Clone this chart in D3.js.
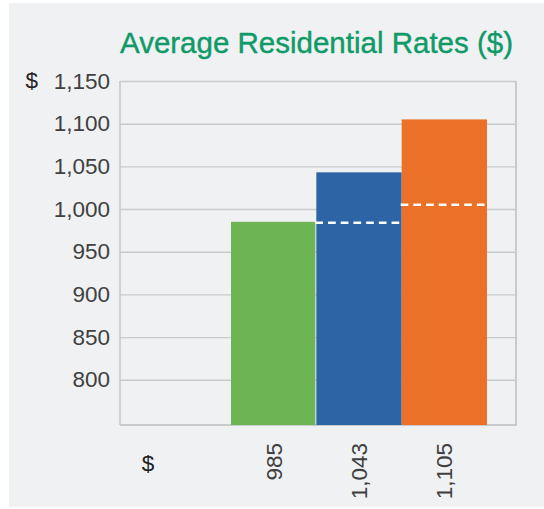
<!DOCTYPE html>
<html>
<head>
<meta charset="utf-8">
<script src="https://cdn.jsdelivr.net/npm/d3@7"></script>
<style>
  html, body { margin: 0; padding: 0; background: #ffffff; }
  svg { display: block; }
  text { font-family: "Liberation Sans", Arial, Helvetica, sans-serif; }
</style>
</head>
<body>
<div id="chart"></div>
<script>
// ---- data ----
const title = "Average Residential Rates ($)";
const categories = ["985", "1,043", "1,105"];
const values = [985, 1043, 1105];
const priorValues = [null, 984, 1005];   // white dashed reference lines
const barColors = ["#6db454", "#2c64a6", "#ec7128"];
const yTicks = [800, 850, 900, 950, 1000, 1050, 1100, 1150];
const yDomain = [747, 1150];
const unitLabel = "$";

// ---- layout ----
const W = 544, H = 509;
const plot = { left: 120, right: 516, top: 81, bottom: 425 };

const svg = d3.select("#chart").append("svg")
  .attr("width", W).attr("height", H);

svg.append("rect").attr("x", 0).attr("y", 0).attr("width", W).attr("height", H).attr("fill", "#ffffff");
svg.append("rect").attr("x", 9).attr("y", 3).attr("width", W - 9).attr("height", H - 5).attr("fill", "#f0f1f3");

const y = d3.scaleLinear().domain(yDomain).range([plot.bottom, plot.top]);
const x = d3.scaleBand().domain(categories)
  .range([plot.left + 111, plot.left + 367]).paddingInner(0).paddingOuter(0);

const gridColor = "#c9cacc";

// gridlines + y labels via axis
const yAxis = d3.axisLeft(y).tickValues(yTicks)
  .tickSize(-(plot.right - plot.left)).tickPadding(10)
  .tickFormat(d3.format(","));
const gy = svg.append("g").attr("transform", `translate(${plot.left},0)`).call(yAxis);
gy.select(".domain").remove();
gy.selectAll(".tick line").attr("stroke", gridColor).attr("stroke-width", 1.4);
gy.selectAll(".tick text")
  .attr("fill", "#404040").attr("font-size", 22.5).attr("font-family", "'Liberation Sans', Arial, sans-serif");

// "$" before top label
svg.append("text")
  .attr("x", 38).attr("y", y(1150)).attr("dy", "0.32em")
  .attr("text-anchor", "end").attr("font-size", 22.5).attr("fill", "#222")
  .text(unitLabel);

// frame
svg.append("line").attr("x1", plot.left).attr("x2", plot.left).attr("y1", plot.top).attr("y2", plot.bottom)
  .attr("stroke", gridColor).attr("stroke-width", 1.6);
svg.append("line").attr("x1", plot.right).attr("x2", plot.right).attr("y1", plot.top).attr("y2", plot.bottom + 1)
  .attr("stroke", gridColor).attr("stroke-width", 2);
svg.append("line").attr("x1", plot.left).attr("x2", plot.right).attr("y1", plot.bottom).attr("y2", plot.bottom)
  .attr("stroke", gridColor).attr("stroke-width", 2);

// bars
const data = categories.map((c, i) => ({ c, v: values[i], p: priorValues[i], color: barColors[i] }));
svg.append("g").selectAll("rect").data(data).join("rect")
  .attr("x", d => x(d.c))
  .attr("width", d => x.bandwidth() - (d.c === categories[0] ? 1 : 0))
  .attr("y", d => y(d.v))
  .attr("height", d => y(yDomain[0]) - y(d.v))
  .attr("fill", d => d.color);

// dashed prior lines
svg.append("g").selectAll("line").data(data.filter(d => d.p != null)).join("line")
  .attr("x1", d => x(d.c) - 1).attr("x2", d => x(d.c) + x.bandwidth() - 1)
  .attr("y1", d => y(d.p)).attr("y2", d => y(d.p))
  .attr("stroke", "#ffffff").attr("stroke-width", 2.6)
  .attr("stroke-dasharray", "7.7,5");

// x labels (rotated)
svg.append("g").selectAll("text").data(data).join("text")
  .attr("transform", d => `translate(${x(d.c) + x.bandwidth() / 2 + 8},443) rotate(-90)`)
  .attr("text-anchor", "end").attr("font-size", 22.5).attr("fill", "#404040")
  .text(d => d.c);

// "$" x unit label
svg.append("text")
  .attr("x", 148).attr("y", 471).attr("text-anchor", "middle")
  .attr("font-size", 22.5).attr("fill", "#222")
  .text(unitLabel);

// title
svg.append("text")
  .attr("x", plot.left).attr("y", 53)
  .attr("font-size", 29.5).attr("fill", "#0f9a68")
  .attr("stroke", "#0f9a68").attr("stroke-width", 0.4)
  .text(title);
</script>
</body>
</html>
